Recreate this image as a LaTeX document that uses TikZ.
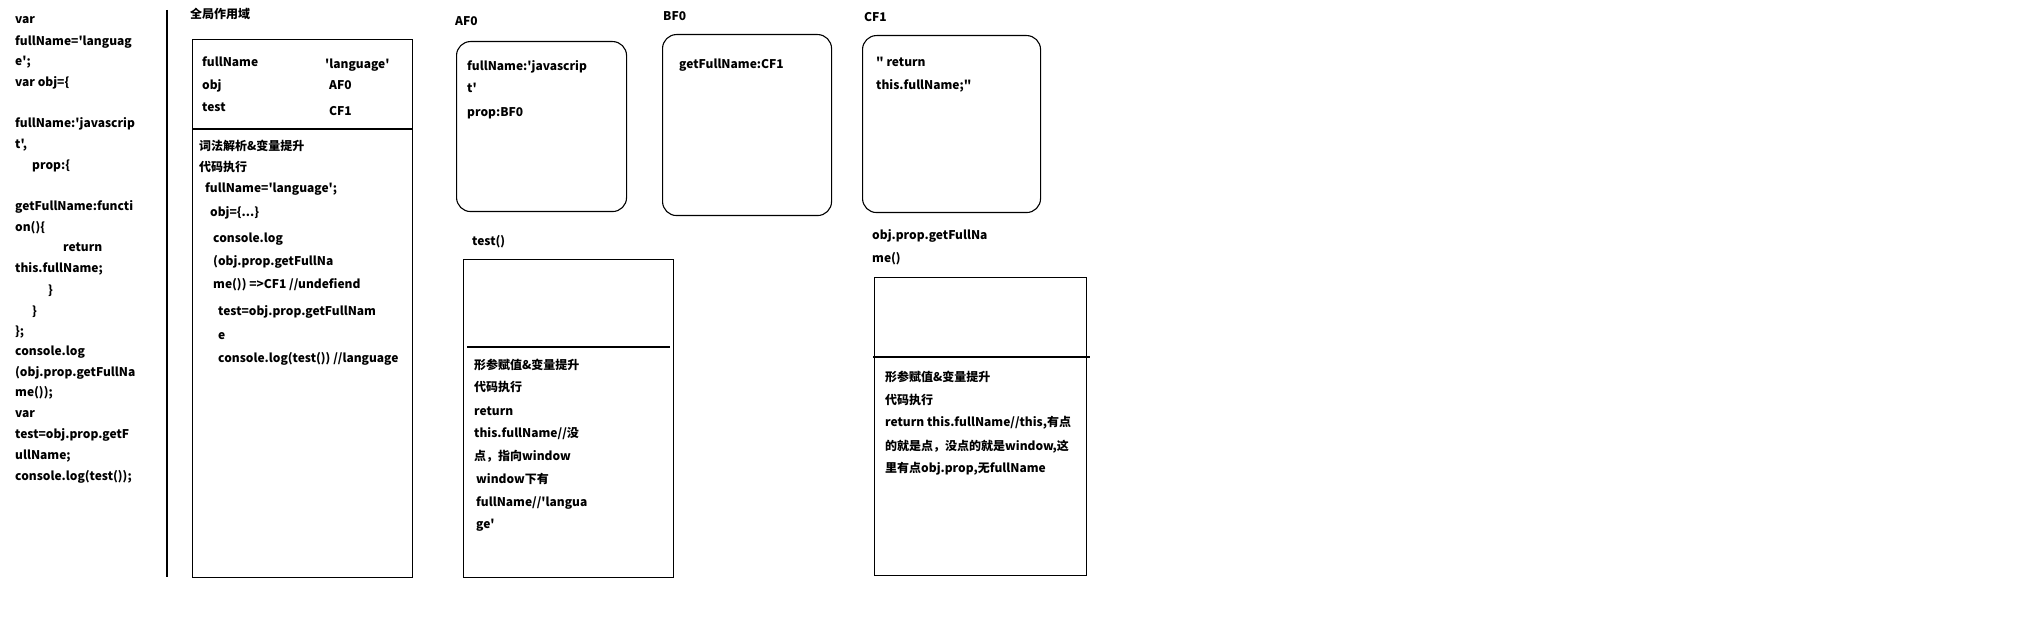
\documentclass[tikz,border=0pt]{standalone}
\usepackage{fontspec}
\setmainfont{Noto Sans CJK SC}[Ligatures=TeXOff]

\begin{document}
\begin{tikzpicture}[
  x=1pt, y=-1pt,
  every node/.style={inner sep=0pt, font=\bfseries\fontsize{12}{14}\selectfont},
  txt/.style={anchor=west, text height=9pt, text depth=2.5pt},
  frame/.style={draw, line width=1.1pt, anchor=north west},
  heapbox/.style={frame, rounded corners=14pt}
]
  \useasboundingbox (0,0) rectangle (2044,644);

  % source code
  \node[txt] (src1)  at (15,20)  {var};
  \node[txt] (src2)  at (15,42)  {fullName='languag};
  \node[txt] (src3)  at (15,62)  {e';};
  \node[txt] (src4)  at (15,83)  {var obj=\{};
  \node[txt] (src5)  at (15,124) {fullName:'javascrip};
  \node[txt] (src6)  at (15,145) {t',};
  \node[txt] (src7)  at (32,166) {prop:\{};
  \node[txt] (src8)  at (15,207) {getFullName:functi};
  \node[txt] (src9)  at (15,228) {on()\{};
  \node[txt] (src10) at (63,248) {return};
  \node[txt] (src11) at (15,269) {this.fullName;};
  \node[txt] (src12) at (48,291) {\}};
  \node[txt] (src13) at (32,312) {\}};
  \node[txt] (src14) at (15,332) {\};};
  \node[txt] (src15) at (15,352) {console.log};
  \node[txt] (src16) at (15,373) {(obj.prop.getFullNa};
  \node[txt] (src17) at (15,393) {me());};
  \node[txt] (src18) at (15,414) {var};
  \node[txt] (src19) at (15,435) {test=obj.prop.getF};
  \node[txt] (src20) at (15,456) {ullName;};
  \node[txt] (src21) at (15,477) {console.log(test());};

  \coordinate (septop) at (167,10);
  \coordinate (sepbot) at (167,577);
  \draw[line width=1.1pt] (septop) -- (sepbot);

  % global scope
  \node[txt] (gtitle) at (190,15) {全局作用域};
  \node[frame, minimum width=220pt, minimum height=538pt] (gbox) at (192,39) {};
  \draw[line width=1.1pt] (gbox.west |- 0,129) -- (gbox.east |- 0,129);
  \node[txt] (gname1) at (202,63)  {fullName};
  \node[txt] (gval1)  at (325,65)  {'language'};
  \node[txt] (gname2) at (202,86)  {obj};
  \node[txt] (gval2)  at (329,86)  {AF0};
  \node[txt] (gname3) at (202,108) {test};
  \node[txt] (gval3)  at (329,112) {CF1};
  \node[txt] (gstep1) at (199,147) {词法解析\&变量提升};
  \node[txt] (gstep2) at (199,168) {代码执行};
  \node[txt] (gline1) at (205,189) {fullName='language';};
  \node[txt] (gline2) at (210,213) {obj=\{...\}};
  \node[txt] (gline3) at (213,239) {console.log};
  \node[txt] (gline4) at (213,262) {(obj.prop.getFullNa};
  \node[txt] (gline5) at (213,285) {me()) =>CF1 //undefiend};
  \node[txt] (gline6) at (218,312) {test=obj.prop.getFullNam};
  \node[txt] (gline7) at (218,336) {e};
  \node[txt] (gline8) at (218,359) {console.log(test()) //language};

  % heap objects
  \node[txt] (atitle) at (455,22) {AF0};
  \node[heapbox, minimum width=170pt, minimum height=170pt] (abox) at (456,41) {};
  \node[txt] (aline1) at (467,67)  {fullName:'javascrip};
  \node[txt] (aline2) at (467,89)  {t'};
  \node[txt] (aline3) at (467,113) {prop:BF0};

  \node[txt] (btitle) at (663,17) {BF0};
  \node[heapbox, minimum width=169pt, minimum height=181pt] (bbox) at (662,34) {};
  \node[txt] (bline1) at (679,65) {getFullName:CF1};

  \node[txt] (ctitle) at (864,18) {CF1};
  \node[heapbox, minimum width=178pt, minimum height=177pt] (cbox) at (862,35) {};
  \node[txt] (cline1) at (876,63) {" return};
  \node[txt] (cline2) at (876,86) {this.fullName;"};

  % test() context
  \node[txt] (ttitle) at (472,242) {test()};
  \node[frame, minimum width=210pt, minimum height=318pt] (tbox) at (463,259) {};
  \coordinate (tdivl) at (467,347);
  \coordinate (tdivr) at (670,347);
  \draw[line width=1.1pt] (tdivl) -- (tdivr);
  \node[txt] (tline1) at (474,366) {形参赋值\&变量提升};
  \node[txt] (tline2) at (474,388) {代码执行};
  \node[txt] (tline3) at (474,412) {return};
  \node[txt] (tline4) at (474,434) {this.fullName//没};
  \node[txt] (tline5) at (474,457) {点，指向window};
  \node[txt] (tline6) at (476,480) {window下有};
  \node[txt] (tline7) at (476,503) {fullName//'langua};
  \node[txt] (tline8) at (476,525) {ge'};

  % obj.prop.getFullName() context
  \node[txt] (ftitle1) at (872,236) {obj.prop.getFullNa};
  \node[txt] (ftitle2) at (872,259) {me()};
  \node[frame, minimum width=212pt, minimum height=298pt] (fbox) at (874,277) {};
  \coordinate (fdivl) at (873,357);
  \coordinate (fdivr) at (1090,357);
  \draw[line width=1.1pt] (fdivl) -- (fdivr);
  \node[txt] (fline1) at (885,378) {形参赋值\&变量提升};
  \node[txt] (fline2) at (885,401) {代码执行};
  \node[txt] (fline3) at (885,423) {return this.fullName//this,有点};
  \node[txt] (fline4) at (885,447) {的就是点，没点的就是window,这};
  \node[txt] (fline5) at (885,469) {里有点obj.prop,无fullName};
\end{tikzpicture}
\end{document}
